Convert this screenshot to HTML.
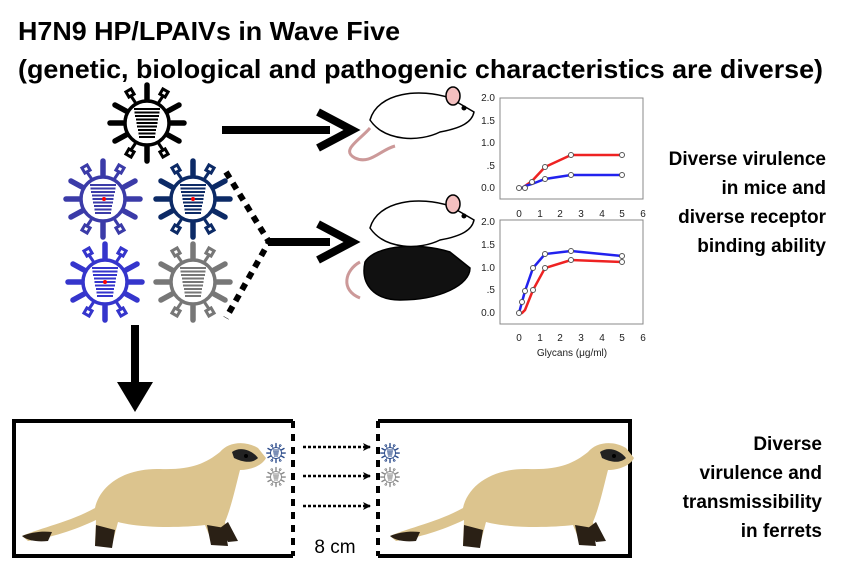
<!DOCTYPE html>
<html><head><meta charset="utf-8"><style>
body{margin:0;background:#fff;}
svg{display:block;font-family:"Liberation Sans",Arial,sans-serif;}
</style></head><body>
<svg width="846" height="568" viewBox="0 0 846 568" xmlns="http://www.w3.org/2000/svg">
<defs>
<symbol id="v" viewBox="-40 -40 80 80" overflow="visible">
 <g stroke="currentColor" fill="none" stroke-linecap="round">
  <circle r="22" stroke-width="3.5" fill="#fff"/>
  <g stroke-width="5.5">
   <line x1="0" y1="-24" x2="0" y2="-38"/><line x1="0" y1="24" x2="0" y2="38"/>
   <line x1="-24" y1="0" x2="-37" y2="0"/><line x1="24" y1="0" x2="37" y2="0"/>
   <line x1="21" y1="-12" x2="32" y2="-18"/><line x1="-21" y1="-12" x2="-32" y2="-18"/>
   <line x1="21" y1="12" x2="32" y2="18"/><line x1="-21" y1="12" x2="-32" y2="18"/>
  </g>
  <g stroke-width="3">
   <line x1="12" y1="-21" x2="16" y2="-27"/><rect x="14" y="-33" width="6" height="6" transform="rotate(30 17 -30)"/>
   <line x1="-12" y1="-21" x2="-16" y2="-27"/><rect x="-20" y="-33" width="6" height="6" transform="rotate(-30 -17 -30)"/>
   <line x1="12" y1="21" x2="16" y2="27"/><rect x="14" y="27" width="6" height="6" transform="rotate(-30 17 30)"/>
   <line x1="-12" y1="21" x2="-16" y2="27"/><rect x="-20" y="27" width="6" height="6" transform="rotate(30 -17 30)"/>
  </g>
  <g stroke-width="2" stroke-linecap="butt">
   <line x1="-13" y1="-14" x2="13" y2="-14"/><line x1="-12.5" y1="-10.5" x2="12.5" y2="-10.5"/>
   <line x1="-12" y1="-7" x2="12" y2="-7"/><line x1="-11" y1="-3.5" x2="11" y2="-3.5"/>
   <line x1="-10.5" y1="0" x2="10.5" y2="0"/><line x1="-10" y1="3.5" x2="10" y2="3.5"/>
   <line x1="-9" y1="7" x2="9" y2="7"/><line x1="-8.5" y1="10.5" x2="8.5" y2="10.5"/>
   <line x1="-8" y1="14" x2="8" y2="14"/>
  </g>
 </g>
</symbol>
<marker id="ah" markerWidth="8" markerHeight="8" refX="7" refY="4" orient="auto" markerUnits="userSpaceOnUse"><path d="M0,0 L8,4 L0,8 L2,4z" fill="#000"/></marker>
</defs>

<text x="18" y="40" font-size="26" font-weight="bold" textLength="382" lengthAdjust="spacingAndGlyphs">H7N9 HP/LPAIVs in Wave Five</text>
<text x="18" y="78" font-size="26" font-weight="bold" textLength="805" lengthAdjust="spacingAndGlyphs">(genetic, biological and pathogenic characteristics are diverse)</text>

<!-- viruses -->
<use href="#v" x="107" y="83" width="80" height="80" color="#000"/>
<use href="#v" x="63" y="159" width="80" height="80" color="#3b3ba8"/>
<use href="#v" x="153" y="159" width="80" height="80" color="#0c2a66"/>
<use href="#v" x="65" y="242" width="80" height="80" color="#3535cc"/>
<use href="#v" x="153" y="242" width="80" height="80" color="#777"/>
<circle cx="104" cy="199" r="2" fill="red"/><circle cx="193" cy="199" r="2" fill="red"/><circle cx="105" cy="282" r="2" fill="red"/>

<!-- arrows -->
<line x1="222" y1="130" x2="330" y2="130" stroke="#000" stroke-width="8"/>
<path d="M318,112 L352,130 L318,148" fill="none" stroke="#000" stroke-width="8"/>
<line x1="268" y1="242" x2="330" y2="242" stroke="#000" stroke-width="8"/>
<path d="M318,224 L352,242 L318,260" fill="none" stroke="#000" stroke-width="8"/>
<path d="M226,172 L269,242 L226,318" fill="none" stroke="#000" stroke-width="6" stroke-dasharray="7,6"/>
<line x1="135" y1="325" x2="135" y2="392" stroke="#000" stroke-width="8"/>
<path d="M117,382 L135,412 L153,382z" fill="#000"/>

<!-- mice -->
<g stroke="#000" stroke-width="1.5">
 <path d="M370,128 C360,140 340,150 355,158 C370,165 380,150 395,146" fill="none" stroke="#c99" stroke-width="3"/>
 <path d="M370,120 C378,92 420,88 450,98 L474,112 C472,122 462,128 440,132 C420,142 385,142 370,120z" fill="#fff"/>
 <ellipse cx="453" cy="96" rx="7" ry="9" fill="#f4c0c0"/>
 <circle cx="464" cy="108" r="1.8" fill="#000"/>
 <path d="M360,262 C345,270 340,290 360,298" fill="none" stroke="#c99" stroke-width="3"/>
 <path d="M365,262 C375,245 420,242 450,252 L470,268 C470,285 440,300 400,300 C375,300 360,285 365,262z" fill="#111"/>
 <path d="M370,228 C378,200 420,196 450,206 L474,220 C472,230 462,236 440,240 C420,250 385,250 370,228z" fill="#fff"/>
 <ellipse cx="453" cy="204" rx="7" ry="9" fill="#f4c0c0"/>
 <circle cx="464" cy="216" r="1.8" fill="#000"/>
</g>

<!-- charts -->
<g font-size="10" fill="#222" text-anchor="end">
 <rect x="500" y="98" width="143" height="101" fill="none" stroke="#888"/>
 <text x="495" y="101">2.0</text><text x="495" y="124">1.5</text><text x="495" y="146">1.0</text><text x="495" y="169">.5</text><text x="495" y="191">0.0</text>
 <rect x="500" y="220" width="143" height="104" fill="none" stroke="#888"/>
 <text x="495" y="225">2.0</text><text x="495" y="248">1.5</text><text x="495" y="271">1.0</text><text x="495" y="293">.5</text><text x="495" y="316">0.0</text>
</g>
<g font-size="10" fill="#222" text-anchor="middle">
 <text x="519" y="217">0</text><text x="540" y="217">1</text><text x="560" y="217">2</text><text x="581" y="217">3</text><text x="602" y="217">4</text><text x="622" y="217">5</text><text x="643" y="217">6</text>
 <text x="519" y="341">0</text><text x="540" y="341">1</text><text x="560" y="341">2</text><text x="581" y="341">3</text><text x="602" y="341">4</text><text x="622" y="341">5</text><text x="643" y="341">6</text>
 <text x="572" y="356">Glycans (μg/ml)</text>
</g>
<g fill="none" stroke-width="2.5">
 <polyline points="519,188 522,188 525,186 532,181 545,167 571,155 622,155" stroke="#e22"/>
 <polyline points="519,188 522,188 525,186 532,184 545,179 571,175 622,175" stroke="#22e"/>
 <polyline points="519,313 522,313 525,310 533,290 545,268 571,260 622,262" stroke="#e22"/>
 <polyline points="519,313 522,302 525,291 533,268 545,254 571,251 622,256" stroke="#22e"/>
</g>
<g fill="#fff" stroke="#555" stroke-width="1">
 <circle cx="519" cy="188" r="2.5"/><circle cx="525" cy="188" r="2.5"/><circle cx="532" cy="182" r="2.5"/><circle cx="545" cy="167" r="2.5"/><circle cx="545" cy="179" r="2.5"/><circle cx="571" cy="155" r="2.5"/><circle cx="571" cy="175" r="2.5"/><circle cx="622" cy="155" r="2.5"/><circle cx="622" cy="175" r="2.5"/>
 <circle cx="519" cy="313" r="2.5"/><circle cx="522" cy="302" r="2.5"/><circle cx="525" cy="291" r="2.5"/><circle cx="533" cy="268" r="2.5"/><circle cx="533" cy="290" r="2.5"/><circle cx="545" cy="254" r="2.5"/><circle cx="545" cy="268" r="2.5"/><circle cx="571" cy="251" r="2.5"/><circle cx="571" cy="260" r="2.5"/><circle cx="622" cy="256" r="2.5"/><circle cx="622" cy="262" r="2.5"/>
</g>

<g font-size="19" font-weight="bold" text-anchor="end">
 <text x="826" y="165">Diverse virulence</text>
 <text x="826" y="194">in mice and</text>
 <text x="826" y="223">diverse receptor</text>
 <text x="826" y="252">binding ability</text>
 <text x="822" y="450">Diverse</text>
 <text x="822" y="479">virulence and</text>
 <text x="822" y="508">transmissibility</text>
 <text x="822" y="537">in ferrets</text>
</g>

<!-- ferret boxes -->
<path d="M293,421 L14,421 L14,556 L293,556" fill="none" stroke="#000" stroke-width="4"/>
<line x1="293" y1="421" x2="293" y2="556" stroke="#000" stroke-width="4" stroke-dasharray="7,6"/>
<path d="M378,421 L630,421 L630,556 L378,556" fill="none" stroke="#000" stroke-width="4"/>
<line x1="378" y1="421" x2="378" y2="556" stroke="#000" stroke-width="4" stroke-dasharray="7,6"/>
<text x="335" y="553" font-size="19" text-anchor="middle">8 cm</text>
<g stroke="#000" stroke-width="2.5" stroke-dasharray="3,2" marker-end="url(#ah)">
 <line x1="303" y1="447" x2="370" y2="447"/><line x1="303" y1="476" x2="370" y2="476"/><line x1="303" y1="506" x2="370" y2="506"/>
</g>
<use href="#v" x="266" y="443" width="20" height="20" color="#2a4a8a"/>
<use href="#v" x="266" y="467" width="20" height="20" color="#888"/>
<use href="#v" x="380" y="443" width="20" height="20" color="#2a4a8a"/>
<use href="#v" x="380" y="467" width="20" height="20" color="#888"/>

<g id="fer">
 <path d="M22,536 C40,528 70,522 95,508 C100,485 125,468 160,469 C190,470 205,464 220,452 C228,442 245,440 258,448 L266,458 C262,466 250,470 240,470 C236,485 232,505 225,522 L228,540 L212,542 L205,525 C180,528 140,528 118,522 L112,545 L95,545 L96,520 C75,530 50,538 28,541z" fill="#dcc48e"/>
 <path d="M22,536 C32,532 42,531 52,532 L48,541 C38,542 28,541 22,536z" fill="#2a2015"/>
 <path d="M96,525 L95,546 L112,548 L115,530z M207,525 L211,545 L228,546 L225,528z M220,528 L228,542 L238,541 L228,522z" fill="#2a2015"/>
 <path d="M232,452 C240,446 252,450 258,458 C252,464 242,462 234,458z" fill="#222"/>
 <circle cx="246" cy="456" r="2" fill="#000"/>
</g>
<use href="#fer" x="0" y="0" transform="translate(368,0)"/>
</svg>
</body></html>
